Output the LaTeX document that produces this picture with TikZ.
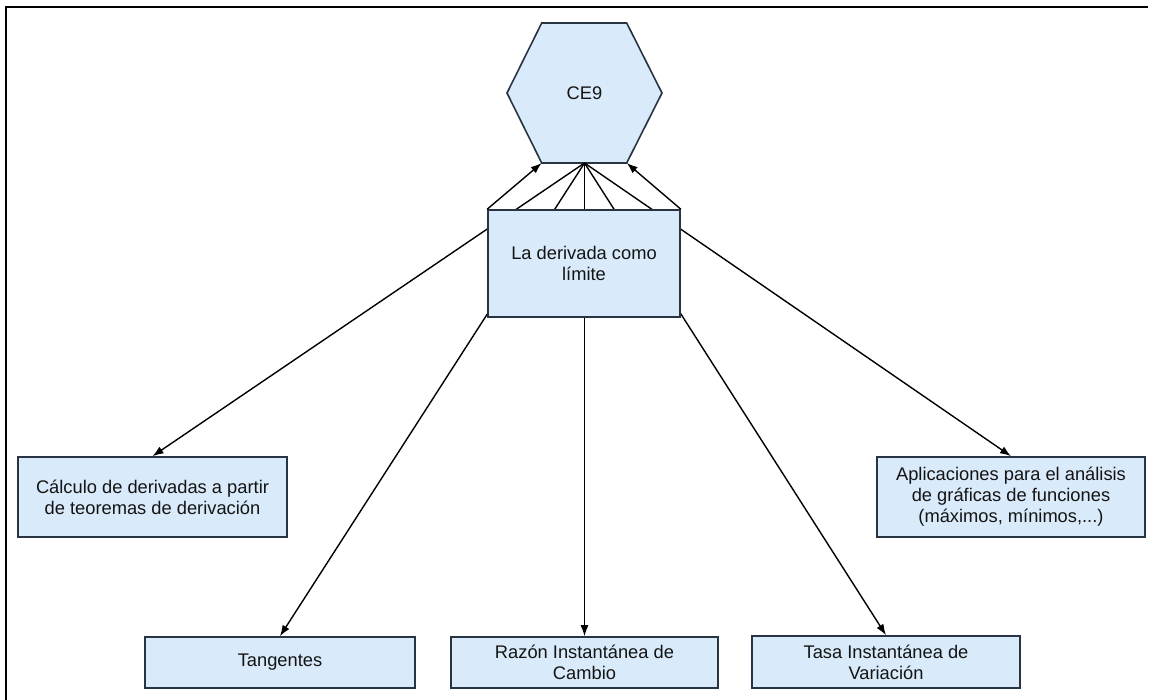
\documentclass[tikz,border=0pt]{standalone}
\usepackage{fontspec}
\setmainfont{Liberation Sans}
\usetikzlibrary{arrows.meta}
\definecolor{boxfill}{RGB}{217,234,250}
\definecolor{boxline}{RGB}{40,52,66}
\definecolor{txt}{RGB}{20,20,20}
\begin{document}
\begin{tikzpicture}[x=1pt,y=-1pt,
  box/.style={draw=boxline,fill=boxfill,line width=1.6pt,inner sep=0pt,align=center,
    text=txt,font=\fontsize{18.3}{21}\selectfont},
  conn/.style={line width=1.4pt,-{Latex[length=11pt,width=8pt]}},
  frameline/.style={line width=2.8pt,line cap=rect}]
\useasboundingbox (0,0) rectangle (1152,700);
% frame (top and left only)
\coordinate (ftl) at (6,7);
\coordinate (ftr) at (1147,7);
\coordinate (fbl) at (6,702);
\draw[frameline] (fbl) -- (ftl) -- (ftr);
% hexagon corners
\coordinate (htl) at (541.7,23);
\coordinate (htr) at (626.7,23);
\coordinate (hr) at (662,93);
\coordinate (hbr) at (626.7,163);
\coordinate (hbl) at (541.7,163);
\coordinate (hl) at (507,93);
\coordinate (hb) at (584.5,163);
\draw[draw=boxline,fill=boxfill,line width=1.6pt] (htl) -- (htr) -- (hr) -- (hbr) -- (hbl) -- (hl) -- cycle;
\node[text=txt,font=\fontsize{18.3}{21}\selectfont] (ce9) at (584.5,93) {CE9};
% target boxes
\node[box,minimum width=269pt,minimum height=80pt] (calc) at (152.5,497) {Cálculo de derivadas a partir\\de teoremas de derivación};
\node[box,minimum width=268pt,minimum height=80pt] (apl) at (1011,497) {Aplicaciones para el análisis\\de gráficas de funciones\\(máximos, mínimos,...)};
\node[box,minimum width=270pt,minimum height=51pt] (tang) at (280,662.5) {Tangentes};
\node[box,minimum width=267pt,minimum height=51pt] (razon) at (584.5,662.5) {Razón Instantánea de\\Cambio};
\node[box,minimum width=268pt,minimum height=52pt] (tasa) at (886,662) {Tasa Instantánea de\\Variación};
% connectors from hexagon
\draw[conn] (hb) -- (calc.north);
\draw[conn] (hb) -- (tang.north);
\draw[conn] (hb) -- (razon.north);
\draw[conn] (hb) -- (tasa.north);
\draw[conn] (hb) -- (apl.north);
% main box on top
\node[box,minimum width=192pt,minimum height=107pt] (main) at (584,263.5) {La derivada como\\límite};
\draw[conn] (main.north west) -- (hbl);
\draw[conn] (main.north east) -- (hbr);
\end{tikzpicture}
\end{document}
